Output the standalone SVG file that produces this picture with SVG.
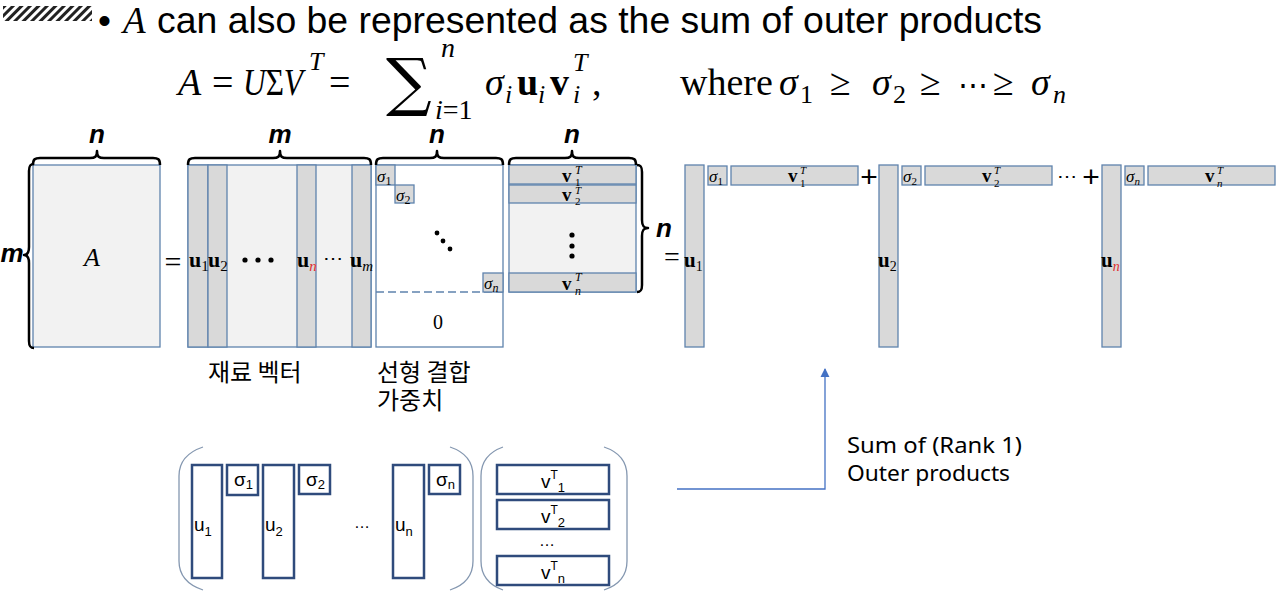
<svg xmlns="http://www.w3.org/2000/svg" width="1278" height="600" viewBox="0 0 1278 600">
<defs>
<pattern id="hatch" width="6" height="6" patternUnits="userSpaceOnUse" patternTransform="rotate(45)">
<rect width="6" height="6" fill="#fff"/>
<rect width="3" height="6" fill="#222"/>
</pattern>
<marker id="arr" viewBox="0 0 10 10" refX="9" refY="5" markerWidth="7" markerHeight="7" orient="auto">
<path d="M0,0 L10,5 L0,10 z" fill="#4472c4"/>
</marker>
</defs>
<style>
.sans{font-family:"Liberation Sans",Arial,sans-serif}
.math{font-family:"Liberation Serif","DejaVu Serif",serif}
.it{font-style:italic}
.bd{font-weight:bold}
.lbl{font-family:"Liberation Sans",Arial,sans-serif;font-weight:bold;font-style:italic;font-size:26px;text-anchor:middle}
.kr{font-family:"Noto Sans CJK KR","Noto Sans",sans-serif;font-size:24px}
.en{font-family:"Noto Sans","Open Sans",sans-serif;font-size:22px}
.lt{fill:#f2f2f2;stroke:#5f83ad;stroke-width:1.3}
.gr{fill:#d9d9d9;stroke:#5f83ad;stroke-width:1.3}
.wh{fill:#fff;stroke:#5f83ad;stroke-width:1.3}
.brace{fill:none;stroke:#000;stroke-width:2.5;stroke-linejoin:round}
.bx{fill:#fff;stroke:#2f4b7c;stroke-width:2.5}
.par{fill:none;stroke:#8497b0;stroke-width:1.3}
.small{font-family:"Liberation Sans",Arial,sans-serif;font-size:19px}
.red{fill:#e03030}
</style>

<g id="title">
<rect x="3" y="6" width="89" height="15" fill="url(#hatch)"/>
<text x="98" y="33" class="sans" font-size="37">•</text>
<text x="123" y="33" class="math it" font-size="37">A</text>
<text x="157" y="33" class="sans" font-size="37" textLength="885" lengthAdjust="spacingAndGlyphs">can also be represented as the sum of outer products</text>
</g>

<g id="formula" class="math" font-size="38">
<text x="178" y="95" class="it">A</text>
<text x="212" y="95">=</text>
<text x="243" y="95" textLength="60" lengthAdjust="spacingAndGlyphs"><tspan class="it">U</tspan>Σ<tspan class="it">V</tspan></text>
<text x="309" y="70" class="it" font-size="26">T</text>
<text x="329" y="95">=</text>
<text x="386" y="104" font-family="DejaVu Serif" font-size="64">∑</text>
<text x="441" y="57" class="it" font-size="28">n</text>
<text x="435" y="119" font-size="28"><tspan class="it">i</tspan>=1</text>
<text x="485" y="95" class="it">σ</text>
<text x="505" y="103" class="it" font-size="26">i</text>
<text x="517" y="95" class="bd">u</text>
<text x="538" y="103" class="it" font-size="26">i</text>
<text x="550" y="95" class="bd">v</text>
<text x="573" y="71" class="it" font-size="26">T</text>
<text x="573" y="103" class="it" font-size="26">i</text>
<text x="592" y="95">,</text>
<text x="680" y="95">where</text>
<text x="779" y="95" class="it">σ</text>
<text x="800" y="103" font-size="26">1</text>
<text x="830" y="95">≥</text>
<text x="872" y="95" class="it">σ</text>
<text x="893" y="103" font-size="26">2</text>
<text x="920" y="95">≥</text>
<text x="958" y="95" font-size="30">⋯</text>
<text x="993" y="95">≥</text>
<text x="1031" y="95" class="it">σ</text>
<text x="1053" y="103" class="it" font-size="26">n</text>
</g>

<g id="matrixA">
<rect x="33" y="165" width="127" height="182" class="lt"/>
<text x="92" y="266" class="math it" font-size="26" text-anchor="middle">A</text>
<path class="brace" d="M33,165 C33,159 35,158 40,158 L90,158 C95,158 97,157 97,151 C97,157 99,158 104,158 L153,158 C158,158 160,159 160,165"/>
<text x="97" y="143" class="lbl">n</text>
<path class="brace" d="M34,164 C30,164 29,166 29,171 L29,247 C29,252 28,255 24,255 C28,255 29,258 29,263 L29,341 C29,346 30,348 34,348"/>
<text x="12" y="262" class="lbl">m</text>
</g>

<text x="173" y="272" class="math" font-size="30" text-anchor="middle">=</text>

<g id="matrixU">
<rect x="188" y="165" width="183" height="182" class="lt"/>
<rect x="188" y="165" width="20" height="182" class="gr"/>
<rect x="208" y="165" width="19" height="182" class="gr"/>
<rect x="297" y="165" width="19" height="182" class="gr"/>
<rect x="352" y="165" width="19" height="182" class="gr"/>
<g class="math" font-size="22">
<text x="189" y="267" class="bd">u<tspan font-size="15" font-weight="normal" dy="4">1</tspan></text>
<text x="208" y="267" class="bd">u<tspan font-size="15" font-weight="normal" dy="4">2</tspan></text>
<text x="297" y="267" class="bd">u<tspan font-size="15" font-weight="normal" font-style="italic" dy="4" class="red">n</tspan></text>
<text x="350" y="267" class="bd">u<tspan font-size="15" font-weight="normal" font-style="italic" dy="4">m</tspan></text>
<text x="333" y="265" text-anchor="middle" font-size="20">⋯</text>
</g>
<circle cx="245" cy="260" r="2.6"/>
<circle cx="258" cy="260" r="2.6"/>
<circle cx="271" cy="260" r="2.6"/>
<path class="brace" d="M188,165 C188,159 190,158 195,158 L273,158 C278,158 280,157 280,151 C280,157 282,158 287,158 L364,158 C369,158 371,159 371,165"/>
<text x="280" y="143" class="lbl">m</text>
</g>

<g id="matrixSigma">
<rect x="376" y="165" width="127" height="182" class="wh"/>
<line x1="376" y1="292" x2="503" y2="292" stroke="#5f83ad" stroke-width="1.5" stroke-dasharray="8,4"/>
<rect x="376" y="165" width="19" height="20" class="gr"/>
<rect x="395" y="185" width="19" height="18" class="gr"/>
<rect x="483" y="273" width="20" height="19" class="gr"/>
<g class="math it" font-size="17">
<text x="377" y="182">σ<tspan font-size="12" font-style="normal" dy="3">1</tspan></text>
<text x="396" y="201">σ<tspan font-size="12" font-style="normal" dy="3">2</tspan></text>
<text x="484" y="289">σ<tspan font-size="12" dy="3">n</tspan></text>
</g>
<circle cx="437" cy="233" r="2.4"/>
<circle cx="443" cy="241" r="2.4"/>
<circle cx="450" cy="249" r="2.4"/>
<text x="438" y="329" class="math" font-size="20" text-anchor="middle">0</text>
<path class="brace" d="M376,165 C376,159 378,158 383,158 L430,158 C435,158 437,157 437,151 C437,157 439,158 444,158 L496,158 C501,158 503,159 503,165"/>
<text x="437" y="143" class="lbl">n</text>
</g>

<g id="matrixVT">
<rect x="509" y="165" width="127" height="127" class="lt"/>
<rect x="509" y="165" width="127" height="19" class="gr"/>
<rect x="509" y="185" width="127" height="18" class="gr"/>
<rect x="509" y="273" width="127" height="19" class="gr"/>
<g class="math" font-size="19">
<text x="562" y="182" class="bd">v</text><text x="575" y="174" class="it" font-size="12">T</text><text x="575" y="186" font-size="11">1</text>
<text x="562" y="201" class="bd">v</text><text x="575" y="194" class="it" font-size="11">T</text><text x="575" y="205" font-size="11">2</text>
<text x="562" y="290" class="bd">v</text><text x="575" y="281" class="it" font-size="12">T</text><text x="575" y="295" class="it" font-size="12">n</text>
</g>
<circle cx="572" cy="235" r="2.6"/>
<circle cx="572" cy="246" r="2.6"/>
<circle cx="572" cy="256" r="2.6"/>
<path class="brace" d="M509,165 C509,159 511,158 516,158 L565,158 C570,158 572,157 572,151 C572,157 574,158 579,158 L629,158 C634,158 636,159 636,165"/>
<text x="572" y="143" class="lbl">n</text>
<path class="brace" d="M637,165 C641,165 642,167 642,172 L642,220 C642,225 643,228 648,228 C643,228 642,231 642,236 L642,285 C642,290 641,292 637,292"/>
<text x="664" y="237" class="lbl">n</text>
</g>

<text x="672" y="266" class="math" font-size="28" text-anchor="middle">=</text>

<g id="outer1">
<rect x="685" y="165" width="19" height="182" class="gr"/>
<rect x="708" y="166" width="19" height="19" class="gr"/>
<rect x="731" y="166" width="127" height="19" class="gr"/>
<text x="684" y="267" class="math bd" font-size="21">u<tspan font-size="14" font-weight="normal" dy="4">1</tspan></text>
<text x="709" y="182" class="math it" font-size="17">σ<tspan font-size="11" font-style="normal" dy="3">1</tspan></text>
<text x="788" y="182" class="math bd" font-size="19">v</text><text x="800" y="174" class="math it" font-size="11">T</text><text x="800" y="187" class="math" font-size="11">1</text>
</g>
<text x="869" y="187" class="sans" font-size="30" text-anchor="middle">+</text>
<g id="outer2">
<rect x="879" y="165" width="19" height="182" class="gr"/>
<rect x="902" y="166" width="19" height="19" class="gr"/>
<rect x="925" y="166" width="127" height="19" class="gr"/>
<text x="878" y="267" class="math bd" font-size="21">u<tspan font-size="14" font-weight="normal" dy="4">2</tspan></text>
<text x="903" y="182" class="math it" font-size="17">σ<tspan font-size="11" font-style="normal" dy="3">2</tspan></text>
<text x="982" y="182" class="math bd" font-size="19">v</text><text x="994" y="174" class="math it" font-size="11">T</text><text x="994" y="187" class="math" font-size="11">2</text>
</g>
<text x="1057" y="183" class="math" font-size="20">⋯</text>
<text x="1091" y="187" class="sans" font-size="30" text-anchor="middle">+</text>
<g id="outern">
<rect x="1102" y="165" width="19" height="182" class="gr"/>
<rect x="1125" y="166" width="19" height="19" class="gr"/>
<rect x="1148" y="166" width="127" height="19" class="gr"/>
<text x="1101" y="267" class="math bd" font-size="21">u<tspan font-size="14" font-weight="normal" font-style="italic" dy="4" class="red">n</tspan></text>
<text x="1126" y="182" class="math it" font-size="17">σ<tspan font-size="11" dy="3">n</tspan></text>
<text x="1205" y="182" class="math bd" font-size="19">v</text><text x="1217" y="174" class="math it" font-size="11">T</text><text x="1217" y="187" class="math it" font-size="11">n</text>
</g>

<g id="captions">
<text x="208" y="381" class="kr">재료 벡터</text>
<text x="377" y="381" class="kr">선형 결합</text>
<text x="377" y="409" class="kr">가중치</text>
</g>

<g id="bottomU">
<path class="par" d="M203,447 C188,452 179,462 179,476 L179,561 C179,575 188,585 203,590"/>
<path class="par" d="M450,447 C465,452 473,462 473,476 L473,561 C473,575 465,585 450,590"/>
<rect x="192" y="465" width="30" height="113" class="bx"/>
<rect x="227" y="465" width="31" height="30" class="bx"/>
<rect x="263" y="465" width="31" height="113" class="bx"/>
<rect x="299" y="465" width="31" height="29" class="bx"/>
<rect x="393" y="465" width="31" height="113" class="bx"/>
<rect x="429" y="465" width="31" height="29" class="bx"/>
<g class="small">
<text x="194" y="531">u<tspan font-size="13" dy="5">1</tspan></text>
<text x="265" y="531">u<tspan font-size="13" dy="5">2</tspan></text>
<text x="395" y="531">u<tspan font-size="13" dy="5">n</tspan></text>
<text x="234" y="486">σ<tspan font-size="13" dy="3">1</tspan></text>
<text x="306" y="486">σ<tspan font-size="13" dy="3">2</tspan></text>
<text x="436" y="486">σ<tspan font-size="13" dy="3">n</tspan></text>
<text x="362" y="528" text-anchor="middle" font-size="16">…</text>
</g>
</g>

<g id="bottomV">
<path class="par" d="M503,447 C489,452 481,462 481,476 L481,561 C481,575 489,585 503,590"/>
<path class="par" d="M604,447 C619,452 627,462 627,476 L627,561 C627,575 619,585 604,590"/>
<rect x="497" y="465" width="112" height="29" class="bx"/>
<rect x="497" y="500" width="112" height="29" class="bx"/>
<rect x="497" y="556" width="112" height="29" class="bx"/>
<g class="small">
<text x="541" y="488">v<tspan font-size="12" dy="-9">T</tspan><tspan font-size="13" dy="13">1</tspan></text>
<text x="541" y="523">v<tspan font-size="12" dy="-9">T</tspan><tspan font-size="13" dy="13">2</tspan></text>
<text x="541" y="579">v<tspan font-size="12" dy="-9">T</tspan><tspan font-size="13" dy="13">n</tspan></text>
<text x="547" y="546" text-anchor="middle" font-size="16">…</text>
</g>
</g>

<g id="connectors">
<polyline points="677,489 825,489 825,369" fill="none" stroke="#4472c4" stroke-width="1.3" marker-end="url(#arr)"/>
</g>

<g id="note">
<text x="847" y="453" class="en" textLength="175" lengthAdjust="spacingAndGlyphs">Sum of (Rank 1)</text>
<text x="847" y="481" class="en" textLength="163" lengthAdjust="spacingAndGlyphs">Outer products</text>
</g>
</svg>
